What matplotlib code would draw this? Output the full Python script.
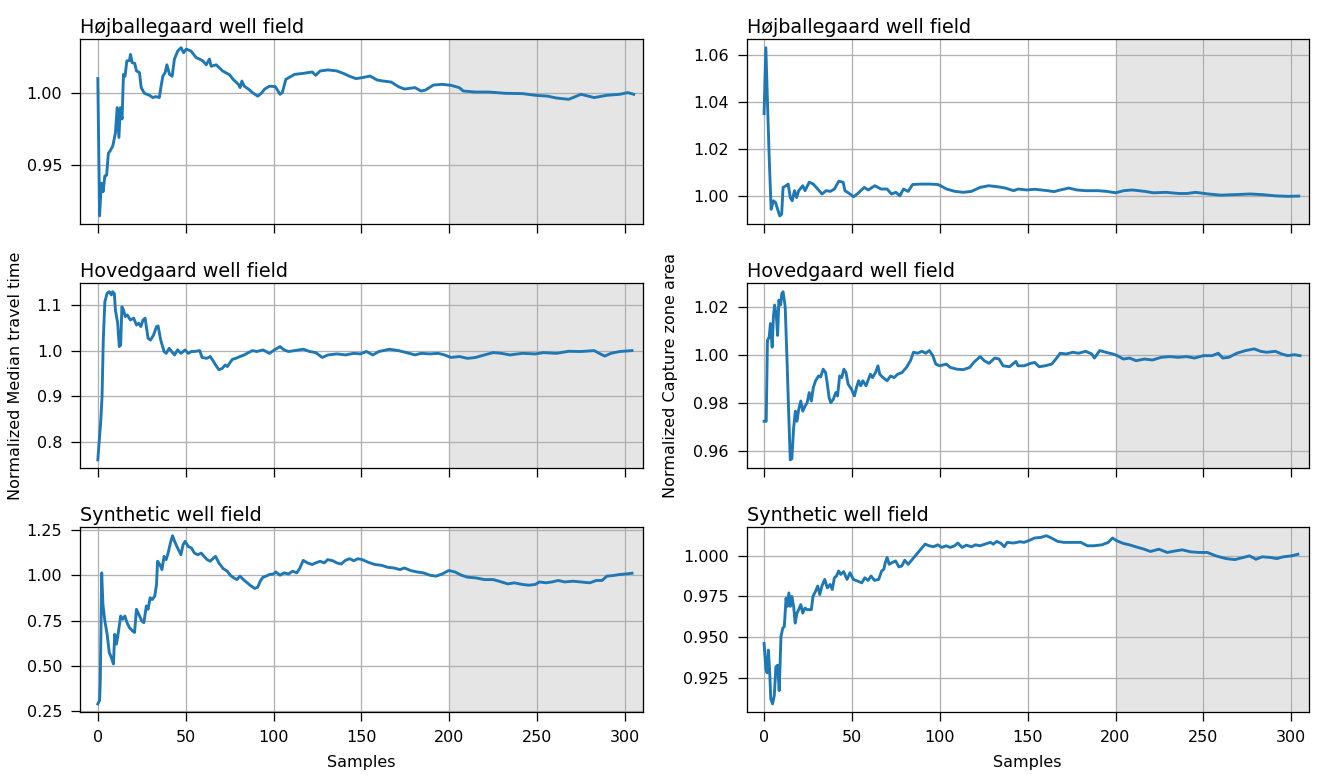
import numpy as np
import matplotlib
matplotlib.use('Agg')
import matplotlib.pyplot as plt

# (sample, value)
hoj_mtt = [(0, 1.0103), (1, 0.914), (2, 0.937), (3, 0.931), (4, 0.942), (5, 0.9425), (6, 0.958),
           (7, 0.9596), (8.5, 0.963), (10, 0.972), (11, 0.990), (12, 0.969), (12.8, 0.990), (13.8, 0.982),
           (14.6, 1.0133), (15.5, 1.012), (16.5, 1.0227), (18, 1.023), (18.6, 1.0273), (19.5, 1.0215),
           (21, 1.021), (22, 1.0157), (23.7, 1.0145), (24.7, 1.004), (26.5, 1.000), (29.4, 0.9986),
           (31.3, 0.997), (33, 0.9977), (35, 0.997), (36, 1.005), (37, 1.012), (38.3, 1.0145), (39.3, 1.020),
           (40.8, 1.0133), (42.3, 1.012), (43.6, 1.024), (45.5, 1.0297), (47.4, 1.032), (48.8, 1.0285),
           (50.3, 1.031), (53, 1.0297), (56, 1.025), (57.9, 1.024), (59.8, 1.0227), (61.7, 1.020),
           (63.5, 1.024), (64.5, 1.019), (67.4, 1.020), (71, 1.0157), (75, 1.013), (77, 1.0098),
           (80, 1.0063), (81, 1.004), (82, 1.0086), (83.3, 1.005), (85.7, 1.003), (88, 1.0005), (91, 0.998),
           (93, 1.000), (95, 1.003), (97.7, 1.005), (101, 1.0047), (103.7, 0.9993), (105, 1.0005),
           (107, 1.0098), (109.7, 1.0117), (112, 1.0133), (117, 1.014), (122, 1.015), (124, 1.0126),
           (126.5, 1.0157), (131, 1.0164), (136, 1.0157), (139.7, 1.014), (143, 1.0121), (147, 1.0103),
           (150.5, 1.011), (155, 1.0121), (159, 1.0093), (162.5, 1.0086), (167, 1.0079), (171, 1.0047),
           (174.5, 1.003), (180.5, 1.004), (184, 1.0016), (186.5, 1.0023), (191, 1.0058), (196, 1.0063),
           (201, 1.0056), (205.7, 1.004), (208, 1.0016), (215, 1.0009), (222.5, 1.0009), (232, 1.000),
           (241.6, 0.9998), (249, 0.9986), (256, 0.998), (261, 0.9967), (268, 0.9958), (275, 0.9993),
           (282.5, 0.997), (289.7, 0.9986), (297, 0.9993), (301.7, 1.0005), (305, 0.9993)]

hoj_cza = [(0, 1.035), (1, 1.063), (2, 1.038), (3, 1.0144), (4, 0.9944), (5.3, 0.998), (6.5, 0.9973),
           (7.7, 0.9944), (8.9, 0.9916), (10, 0.9923), (10.8, 1.0037), (12.5, 1.0044), (13.7, 1.0051),
           (14.9, 0.9994), (16, 0.998), (17.3, 1.0023), (18.5, 0.9994), (19.7, 1.0023), (22, 1.0044),
           (23.3, 1.0023), (25.7, 1.0059), (28, 1.0051), (30.5, 1.003), (33, 1.0009), (35.3, 1.0023),
           (37.7, 1.002), (40, 1.003), (42.5, 1.0063), (45, 1.0059), (46, 1.0023), (48.5, 1.0011),
           (51, 0.9997), (53.3, 1.0011), (57, 1.0037), (59.3, 1.0026), (63, 1.0044), (66.5, 1.003),
           (70, 1.003), (72.5, 1.0009), (75, 1.0016), (77.3, 1.0001), (79.3, 1.003), (82, 1.002),
           (84.5, 1.0049), (89.4, 1.0051), (94, 1.0051), (99, 1.0049), (101.4, 1.004), (103.8, 1.003),
           (108.6, 1.002), (113.4, 1.0016), (118, 1.002), (123, 1.0037), (127.8, 1.0044), (132.6, 1.004),
           (137.4, 1.0034), (142, 1.0023), (144.6, 1.003), (149.4, 1.0026), (154, 1.0029), (161.4, 1.0023),
           (165, 1.0019), (168.6, 1.0026), (173.4, 1.0034), (178, 1.0026), (183, 1.0023), (190, 1.0023),
           (195, 1.002), (200, 1.0014), (204.7, 1.0023), (209.5, 1.0026), (216.7, 1.002), (221.5, 1.0014),
           (228.7, 1.0016), (236, 1.0011), (240.7, 1.0011), (245.5, 1.0016), (252.7, 1.0009), (260, 1.0004),
           (267, 1.0006), (276.7, 1.0009), (284, 1.0006), (291, 1.0001), (298, 0.9999), (304.3, 1.0)]

hov_mtt = [(0, 0.7606), (1.7, 0.848), (2.4, 0.899), (3.1, 1.023), (4, 1.107), (5.3, 1.1255), (6.5, 1.129),
           (7.7, 1.122), (8.4, 1.129), (9.4, 1.125), (10, 1.089), (11.3, 1.06), (12.2, 1.0088), (13, 1.012),
           (13.7, 1.096), (14.6, 1.089), (15.6, 1.0745), (16.8, 1.078), (18.5, 1.067), (20.4, 1.071),
           (22, 1.056), (23.3, 1.06), (24.5, 1.0526), (25.7, 1.067), (26.9, 1.071), (28.6, 1.027),
           (30, 1.023), (31.7, 1.034), (33.4, 1.0526), (34.3, 1.054), (35.8, 1.023), (37.7, 0.998),
           (38.9, 0.994), (40.6, 1.005), (42.5, 0.9956), (43.7, 0.9905), (45.4, 1.0015), (47.3, 0.994),
           (49.7, 1.0015), (51.4, 0.994), (53.3, 0.998), (55, 0.998), (58, 1.0), (59.3, 0.985), (62, 0.983),
           (64, 0.987), (65.3, 0.9796), (67, 0.9686), (68.9, 0.958), (70.8, 0.961), (72.5, 0.9686),
           (73.7, 0.965), (74.9, 0.972), (76.6, 0.981), (78.5, 0.983), (80.9, 0.987), (83.3, 0.9905),
           (85.7, 0.9956), (88, 1.0), (90.5, 0.998), (94, 1.0015), (97.7, 0.994), (100.5, 1.0015),
           (103.7, 1.0088), (106, 1.0015), (108.5, 0.998), (112, 1.0), (117, 1.003), (120.5, 0.998),
           (124, 0.9956), (127.7, 0.985), (131, 0.9905), (136, 0.9927), (141, 0.9905), (145.7, 0.994),
           (149.3, 0.9927), (152.9, 0.998), (156.5, 0.9905), (160, 0.998), (166, 1.003), (171, 1.0),
           (175.7, 0.9956), (180.5, 0.9905), (184, 0.994), (189, 0.9927), (193.7, 0.994), (197.3, 0.9905),
           (201, 0.985), (205.7, 0.987), (210.5, 0.983), (215, 0.985), (220, 0.9905), (225, 0.9956),
           (229.7, 0.994), (234.5, 0.9905), (241.7, 0.994), (249, 0.9927), (253.7, 0.9956), (261, 0.994),
           (268, 0.9985), (275, 0.998), (282.5, 1.0), (286, 0.9927), (288.5, 0.988), (292, 0.994),
           (297, 0.998), (304, 1.0)]

hov_cza = [(0, 0.9725), (1.2, 0.9725), (1.9, 1.006), (2.9, 1.0074), (3.6, 1.013), (4.6, 1.0032),
           (5.3, 1.0158), (6, 1.0207), (7, 1.0158), (7.7, 1.0081), (8.4, 1.0227), (9.4, 1.0207),
           (10.1, 1.0255), (10.8, 1.0262), (12, 1.02), (13, 0.999), (13.9, 0.978), (14.9, 0.9565),
           (15.8, 0.957), (16.8, 0.9697), (17.8, 0.9767), (18.7, 0.9725), (19.7, 0.9774), (20.9, 0.9809),
           (22, 0.9767), (23.3, 0.9788), (24.5, 0.9802), (25.7, 0.9844), (26.9, 0.9809), (28, 0.9865),
           (29.3, 0.9893), (31, 0.9913), (32.2, 0.9909), (33.6, 0.9941), (35, 0.9927), (36, 0.9879),
           (37, 0.9823), (38, 0.9802), (39.4, 0.9816), (40.8, 0.9844), (41.8, 0.983), (43, 0.9913),
           (44.2, 0.9906), (45.4, 0.9941), (46.6, 0.9927), (47.8, 0.9879), (49.7, 0.9858), (51.4, 0.983),
           (52.6, 0.9865), (53.8, 0.9893), (55, 0.9872), (56.2, 0.9893), (58, 0.9872), (60.5, 0.992),
           (61.7, 0.9906), (63.4, 0.9927), (64.8, 0.9955), (65.8, 0.992), (67.7, 0.9906), (70, 0.9893),
           (72, 0.9913), (74, 0.9906), (76, 0.992), (78.5, 0.9927), (81, 0.9948), (83.3, 0.9976),
           (85, 1.0011), (87.4, 1.0007), (89.8, 1.0015), (92, 1.0007), (94, 1.0018), (96, 0.9997),
           (97.7, 0.9962), (100, 0.9955), (103.7, 0.9962), (106, 0.9948), (109.7, 0.9941), (113.3, 0.9939),
           (117, 0.9948), (119.3, 0.9969), (123, 0.9993), (125.3, 0.9976), (128, 0.9965), (131.3, 0.9987),
           (133.7, 0.9983), (136, 0.9955), (139.7, 0.9951), (143.3, 0.9973), (144.5, 0.9955), (148, 0.9955),
           (151.7, 0.9965), (154, 0.9969), (156.5, 0.9951), (160, 0.9955), (163.7, 0.9962), (166.5, 0.9987),
           (168.5, 1.0007), (172, 1.0004), (175.7, 1.0011), (179, 1.0007), (183, 1.0015), (186.5, 1.0004),
           (188, 0.9987), (191, 1.0018), (195, 1.001), (198.5, 1.0004), (201, 0.9997), (204.5, 0.9983),
           (208, 0.9987), (211.7, 0.9976), (216.5, 0.9983), (221, 0.9979), (226, 0.999), (231, 0.9993),
           (235.7, 0.999), (240.5, 0.9993), (245, 0.9987), (250, 0.9997), (255, 0.9997), (258.5, 1.0007),
           (261, 0.9987), (264.5, 0.999), (269, 1.0007), (274, 1.0018), (279, 1.0025), (282.5, 1.0015),
           (286, 1.0011), (291, 1.0015), (294.5, 1.0004), (298, 0.9997), (301.7, 1.0001), (305, 0.9997)]

syn_mtt = [(0, 0.290), (1, 0.309), (1.4, 0.418), (2.2, 1.013), (2.9, 0.839), (4, 0.748), (5.3, 0.674),
           (6.5, 0.574), (7.7, 0.546), (8.9, 0.51), (9.6, 0.674), (10.6, 0.62), (11.8, 0.693), (13, 0.775),
           (14.2, 0.757), (15.4, 0.775), (16.6, 0.738), (18, 0.711), (19.7, 0.693), (20.9, 0.684),
           (22, 0.812), (23.3, 0.784), (25, 0.748), (26.2, 0.738), (27.6, 0.83), (28.6, 0.812), (29.8, 0.876),
           (31, 0.866), (32.4, 0.885), (33.4, 0.949), (34, 1.077), (35.3, 1.059), (36.5, 1.031),
           (37.7, 1.104), (38.9, 1.086), (40, 1.122), (41.3, 1.177), (42.5, 1.218), (43.7, 1.187),
           (45.4, 1.15), (47.3, 1.113), (48.5, 1.168), (49.7, 1.187), (51.4, 1.159), (53.3, 1.15),
           (55, 1.122), (56.9, 1.113), (58.8, 1.122), (60.5, 1.104), (62.2, 1.086), (64, 1.077),
           (65.8, 1.095), (67, 1.104), (68.9, 1.068), (71.3, 1.037), (73.7, 1.022), (75.6, 0.998),
           (77.5, 0.985), (79.2, 0.976), (80.9, 0.995), (82.8, 0.976), (84.5, 0.962), (86.9, 0.943),
           (89.3, 0.927), (91, 0.934), (92.4, 0.967), (94, 0.989), (95.8, 0.995), (97.7, 1.004), (100, 1.007),
           (101.3, 1.018), (103.7, 1.0), (106, 1.013), (108.5, 1.007), (110.9, 1.022), (113.3, 1.013),
           (115, 1.04), (116.9, 1.082), (119.3, 1.068), (122, 1.059), (124, 1.068), (126.5, 1.077),
           (128.9, 1.068), (130.8, 1.086), (133.7, 1.08), (136, 1.068), (138.5, 1.062), (140.9, 1.082),
           (143.3, 1.091), (145.7, 1.08), (148, 1.091), (150.5, 1.086), (154, 1.071), (157.7, 1.059),
           (161.3, 1.055), (164.9, 1.044), (168.5, 1.04), (172, 1.031), (174.5, 1.04), (178, 1.026),
           (181.7, 1.018), (185.3, 1.013), (189, 1.0), (192.5, 0.995), (196, 1.007), (199.7, 1.026),
           (203.3, 1.018), (206.9, 1.0), (210.5, 0.989), (215.3, 0.985), (220, 0.976), (225, 0.976),
           (229.7, 0.963), (233.3, 0.952), (237, 0.958), (241.7, 0.949), (245.3, 0.945), (249, 0.949),
           (251.3, 0.963), (255, 0.958), (258.5, 0.963), (262, 0.971), (265.7, 0.963), (270.5, 0.967),
           (275, 0.963), (280, 0.958), (283.7, 0.971), (287, 0.971), (289.7, 0.995), (293, 0.998),
           (297, 1.004), (300.5, 1.007), (304, 1.011)]

syn_cza = [(0, 0.9461), (1, 0.9306), (1.7, 0.928), (2.4, 0.942), (3.1, 0.9306), (3.8, 0.912),
           (4.8, 0.9089), (5.8, 0.914), (6.7, 0.9317), (7.7, 0.9327), (8.6, 0.9171), (9.6, 0.9503),
           (10.6, 0.9555), (11.5, 0.9565), (12.5, 0.974), (13.2, 0.9689), (14.1, 0.9772), (14.9, 0.9689),
           (15.8, 0.975), (16.8, 0.9689), (17.7, 0.9586), (18.7, 0.9648), (19.7, 0.9669), (20.9, 0.97),
           (22, 0.9648), (23.3, 0.9679), (24.5, 0.9669), (25.7, 0.9669), (26.9, 0.9669), (27.8, 0.975),
           (29.3, 0.9783), (30.5, 0.9814), (31.7, 0.9762), (32.9, 0.9814), (34.5, 0.9855), (36, 0.9803),
           (37.6, 0.9824), (38.8, 0.9793), (40, 0.9865), (41.2, 0.9876), (42.4, 0.9907), (43.6, 0.9886),
           (45.3, 0.9903), (47.2, 0.9855), (48.9, 0.9896), (50.8, 0.9855), (53.2, 0.9845), (55.6, 0.9834),
           (57.3, 0.9865), (59.2, 0.9849), (60.9, 0.9876), (62.8, 0.9849), (65.2, 0.9855), (66.9, 0.9907),
           (68.1, 0.9917), (69, 0.9959), (70, 0.999), (71.2, 0.9948), (72.9, 0.9959), (74.8, 0.9969),
           (76.7, 0.9932), (78.4, 0.9938), (80, 0.9973), (82, 0.9948), (84.4, 0.9979), (86.8, 1.001),
           (89.2, 1.0041), (91.6, 1.0072), (94, 1.0062), (96.4, 1.0056), (98.8, 1.0068), (101.2, 1.0052),
           (103.6, 1.0062), (106, 1.0052), (108.4, 1.0062), (110.3, 1.0079), (112.7, 1.0052), (115.1, 1.0066),
           (118, 1.0056), (120.4, 1.0068), (122.8, 1.0062), (125.7, 1.0072), (128.8, 1.0083), (130.5, 1.0072),
           (132.4, 1.0089), (134.8, 1.0077), (136.7, 1.0056), (138.4, 1.0083), (142, 1.0079), (145.6, 1.0087),
           (148, 1.0083), (150.4, 1.0093), (154, 1.011), (157.6, 1.0114), (160.7, 1.0124), (163.5, 1.011),
           (167.1, 1.0089), (170.7, 1.0083), (175.5, 1.0083), (180.3, 1.0083), (184, 1.0062), (187.5, 1.0062),
           (192.3, 1.0068), (195.9, 1.0083), (198.3, 1.011), (200.7, 1.0093), (204.3, 1.0077), (207.9, 1.0068),
           (211.5, 1.0056), (216.3, 1.0041), (219.9, 1.0027), (224.7, 1.0041), (229.5, 1.0021), (234.3, 1.0031),
           (237.9, 1.0037), (242.7, 1.0025), (247.5, 1.0021), (252.3, 1.0021), (257.1, 1.0), (263, 0.9983),
           (267.9, 0.9977), (272.7, 0.999), (276.3, 1.0), (279.9, 0.9979), (283.5, 0.9994), (288.3, 0.999),
           (291.8, 0.9983), (295.4, 0.9994), (300.2, 1.0), (303.8, 1.001)]

titles = ['Højballegaard well field', 'Hovedgaard well field', 'Synthetic well field']
series = [[hoj_mtt, hoj_cza], [hov_mtt, hov_cza], [syn_mtt, syn_cza]]
yticks = [[[0.95, 1.00], [1.00, 1.02, 1.04, 1.06]],
          [[0.8, 0.9, 1.0, 1.1], [0.96, 0.98, 1.00, 1.02]],
          [[0.25, 0.50, 0.75, 1.00, 1.25], [0.925, 0.950, 0.975, 1.000]]]
xticks = [0, 50, 100, 150, 200, 250, 300]
ylabels = ['Normalized Median travel time', 'Normalized Capture zone area']

DPI = 115
fig, axs = plt.subplots(3, 2, figsize=(1320 / DPI, 775 / DPI), dpi=DPI, sharex='col')
plt.subplots_adjust(left=0.0608, right=0.9915, top=0.9493, bottom=0.0809, wspace=0.185, hspace=0.319)

for r in range(3):
    for c in range(2):
        ax = axs[r, c]
        d = np.array(series[r][c])
        ax.axvspan(200, 310, color='grey', alpha=0.2, lw=0)
        ax.plot(d[:, 0], d[:, 1], color='#1f77b4', lw=1.8)
        ax.set_xlim(-10, 310)
        ax.set_xticks(xticks)
        ax.set_yticks(yticks[r][c])
        ax.tick_params(length=5.4, pad=5.8)
        ax.grid(True)
        ax.set_title(titles[r], loc='left', fontsize=12, pad=4)
        if r == 2:
            ax.set_xlabel('Samples', labelpad=6.3)

axs[1, 0].set_ylabel(ylabels[0])
axs[1, 0].yaxis.set_label_coords(-0.101, 0.5)
axs[1, 1].set_ylabel(ylabels[1])
axs[1, 1].yaxis.set_label_coords(-0.1216, 0.5)

fig.savefig('out.png', dpi=DPI)
